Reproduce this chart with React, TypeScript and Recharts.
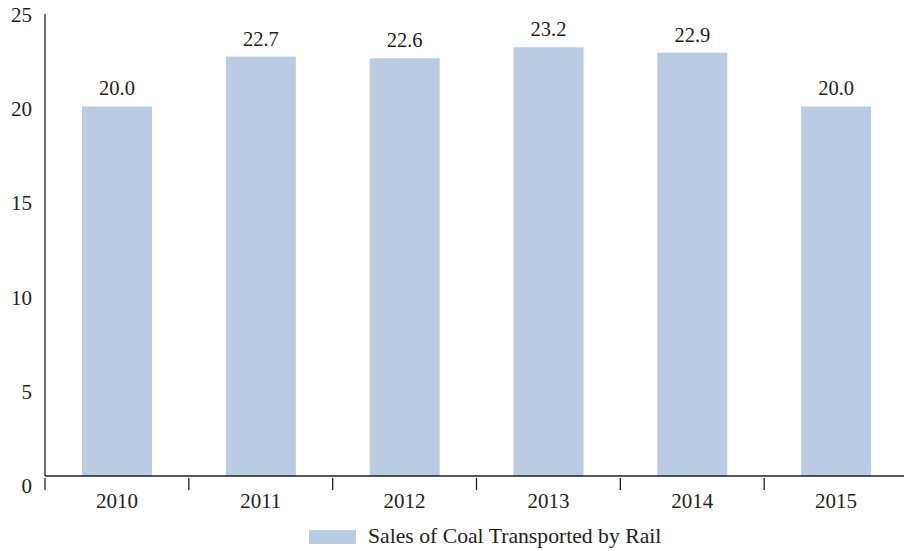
import React from 'react';
import { BarChart, Bar, XAxis, YAxis, Legend, LabelList } from 'recharts';

const years = ['2010', '2011', '2012', '2013', '2014', '2015'];
const coalByRail = [20.0, 22.7, 22.6, 23.2, 22.9, 20.0];
const yTicks = [0, 5, 10, 15, 20, 25];
const seriesName = 'Sales of Coal Transported by Rail';

const data = years.map((year, i) => ({ year, value: coalByRail[i] }));

const CHART_W = 912;
const CHART_H = 551;
const AXIS_W = 45;
const MARGIN_RIGHT = 4;
const HALF_BAND = (CHART_W - AXIS_W - MARGIN_RIGHT) / years.length / 2;
const FONT = 'Liberation Serif, Times New Roman, Times, serif';
const INK = '#231f20';
const BAR = '#b8cce4';

const XTick = (props: any) => {
  const { x, y, payload } = props;
  const bx = x - HALF_BAND;
  return (
    <g>
      <line x1={bx} y1={y - 6} x2={bx} y2={y + 6} stroke={INK} strokeWidth={1.3} />
      <text x={x} y={y + 24} textAnchor="middle" style={{ fontFamily: FONT, fontSize: 21 }} fill={INK}>
        {payload.value}
      </text>
    </g>
  );
};

const YTick = (props: any) => {
  const { x, y, payload } = props;
  const shift = 1 + ((25 - payload.value) * 9) / 25;
  return (
    <text x={x} y={y + shift} dy={7} textAnchor="end" style={{ fontFamily: FONT, fontSize: 21 }} fill={INK}>
      {payload.value}
    </text>
  );
};

const LegendBox = () => (
  <div style={{ position: 'relative', width: CHART_W, height: 30 }}>
    <div style={{ position: 'absolute', left: 309, top: 9, width: 47, height: 14, background: BAR }} />
    <div
      style={{
        position: 'absolute',
        left: 368,
        top: 3,
        fontFamily: FONT,
        fontSize: 21.7,
        color: INK,
        whiteSpace: 'nowrap',
        lineHeight: '24px',
      }}
    >
      {seriesName}
    </div>
  </div>
);

export default function App() {
  return (
    <div style={{ position: 'absolute', left: 0, top: 0, width: 904, height: 551, overflow: 'hidden', background: '#fff' }}>
      <BarChart
        width={CHART_W}
        height={CHART_H}
        data={data}
        margin={{ top: 14, right: MARGIN_RIGHT, left: 0, bottom: 0 }}
        barSize={70}
        style={{ fontFamily: FONT }}
      >
        <XAxis
          dataKey="year"
          height={45}
          tickLine={false}
          axisLine={{ stroke: INK, strokeWidth: 1.3 }}
          tick={<XTick />}
          interval={0}
        />
        <YAxis
          width={AXIS_W}
          domain={[0, 25]}
          ticks={yTicks}
          tickLine={false}
          tickSize={0}
          tickMargin={13}
          axisLine={{ stroke: INK, strokeWidth: 1.3 }}
          tick={<YTick />}
        />
        <Legend verticalAlign="bottom" height={30} content={<LegendBox />} />
        <Bar dataKey="value" name={seriesName} fill={BAR} isAnimationActive={false}>
          <LabelList
            dataKey="value"
            position="top"
            offset={11}
            formatter={(v: any) => Number(v).toFixed(1)}
            style={{ fontFamily: FONT, fontSize: 20.5, fill: INK }}
          />
        </Bar>
      </BarChart>
    </div>
  );
}
